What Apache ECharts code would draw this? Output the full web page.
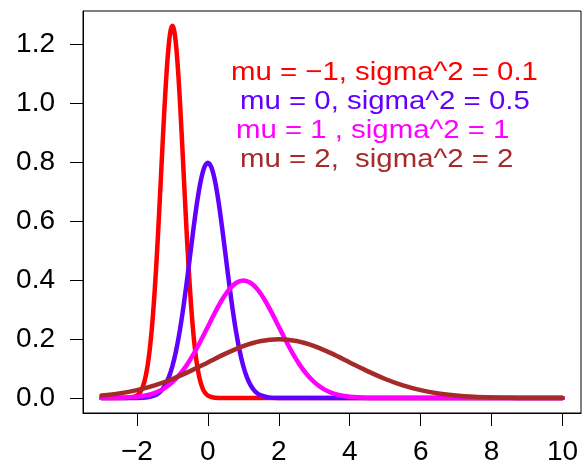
<!DOCTYPE html>
<html>
<head>
<meta charset="utf-8">
<script src="https://cdn.jsdelivr.net/npm/echarts@6/dist/echarts.min.js"></script>
<style>
  html, body { margin: 0; padding: 0; background: #fff; }
  #chart { width: 582px; height: 466px; }
</style>
</head>
<body>
<div id="chart"></div>
<script>
// Normal densities sampled along x
const redX = [-3, -2.5, -2.2, -2.0, -1.95, -1.9, -1.85, -1.8, -1.75, -1.7, -1.65, -1.6, -1.55, -1.5, -1.45, -1.4, -1.35, -1.3, -1.25, -1.2, -1.15, -1.1, -1.05, -1.0,
  -0.95, -0.9, -0.85, -0.8, -0.75, -0.7, -0.65, -0.6, -0.55, -0.5, -0.45, -0.4, -0.35, -0.3, -0.25, -0.2, -0.15, -0.1, -0.05, 0, 0.2, 0.5, 1, 10];
const redY = [0, 0, 0.0009, 0.0085, 0.0138, 0.0220, 0.0340, 0.0514, 0.0758, 0.1089, 0.1526, 0.2085, 0.2780, 0.3614, 0.4584, 0.5669, 0.6838, 0.8044, 0.9230, 1.0329, 1.1273, 1.2001, 1.2459, 1.2616,
  1.2459, 1.2001, 1.1273, 1.0329, 0.9230, 0.8044, 0.6838, 0.5669, 0.4584, 0.3614, 0.2780, 0.2085, 0.1526, 0.1089, 0.0758, 0.0514, 0.0340, 0.0220, 0.0138, 0.0085, 0.0009, 0, 0, 0];

const blueX = [-3, -2.5, -2, -1.7, -1.5, -1.4, -1.3, -1.2, -1.1, -1.0, -0.9, -0.8, -0.7, -0.6, -0.5, -0.4, -0.3, -0.2, -0.1, 0,
  0.1, 0.2, 0.3, 0.4, 0.5, 0.6, 0.7, 0.8, 0.9, 1.0, 1.1, 1.2, 1.3, 1.4, 1.5, 1.7, 2, 2.5, 3, 10];
const blueY = [0, 0, 0.0003, 0.0025, 0.0089, 0.0158, 0.0272, 0.0448, 0.0710, 0.1080, 0.1579, 0.2218, 0.2995, 0.3884, 0.4839, 0.5794, 0.6665, 0.7366, 0.7821, 0.7979,
  0.7821, 0.7366, 0.6665, 0.5794, 0.4839, 0.3884, 0.2995, 0.2218, 0.1579, 0.1080, 0.0710, 0.0448, 0.0272, 0.0158, 0.0089, 0.0025, 0.0003, 0, 0, 0];

const magentaX = [-3, -2.4, -2, -1.8, -1.6, -1.4, -1.2, -1.0, -0.8, -0.6, -0.4, -0.2, 0, 0.2, 0.4, 0.6, 0.8, 1.0,
  1.2, 1.4, 1.6, 1.8, 2.0, 2.2, 2.4, 2.6, 2.8, 3.0, 3.2, 3.4, 3.6, 3.8, 4.0, 4.4, 5, 6, 10];
const magentaY = [0.0001, 0.0012, 0.0044, 0.0079, 0.0136, 0.0224, 0.0355, 0.0540, 0.0790, 0.1109, 0.1497, 0.1942, 0.2420, 0.2897, 0.3332, 0.3683, 0.3910, 0.3989,
  0.3910, 0.3683, 0.3332, 0.2897, 0.2420, 0.1942, 0.1497, 0.1109, 0.0790, 0.0540, 0.0355, 0.0224, 0.0136, 0.0079, 0.0044, 0.0012, 0.0001, 0, 0];

const brownX = [-3, -2.5, -2, -1.5, -1, -0.5, 0, 0.5, 1, 1.5, 2, 2.5, 3, 3.5, 4, 4.5, 5, 5.5, 6, 6.5, 7, 7.5, 8, 8.5, 9, 9.5, 10];
const brownY = [0.0088, 0.0159, 0.0270, 0.0431, 0.0648, 0.0913, 0.1210, 0.1506, 0.1760, 0.1933, 0.1995, 0.1933, 0.1760, 0.1506, 0.1210, 0.0913,
  0.0648, 0.0431, 0.0270, 0.0159, 0.0088, 0.0045, 0.0022, 0.0010, 0.0004, 0.0002, 0.0001];

const xTicks = [-2, 0, 2, 4, 6, 8, 10];
const yTicks = [0, 0.2, 0.4, 0.6, 0.8, 1.0, 1.2];

const labels = [
  'mu = \u22121, sigma^2 = 0.1',
  'mu = 0, sigma^2 = 0.5',
  'mu = 1 , sigma^2 = 1',
  'mu = 2,  sigma^2 = 2'
];
const colors = ['#FF0000', '#6200FF', '#FF00FF', '#A52A2A'];

const FONT = '"Liberation Sans", Arial, Helvetica, sans-serif';

function pairs(xs, ys) {
  return xs.map((x, i) => [x, ys[i]]);
}

const curves = [
  pairs(redX, redY),
  pairs(blueX, blueY),
  pairs(magentaX, magentaY),
  pairs(brownX, brownY)
];

// label anchor points (left edge, vertical middle)
const labelPos = [[231, 73], [240, 101.5], [236, 130.5], [240, 160]];

const chart = echarts.init(document.getElementById('chart'), null, { renderer: 'canvas' });

chart.setOption({
  animation: false,
  backgroundColor: '#fff',
  grid: {
    left: 83, top: 11, right: 1, bottom: 53,
    show: true, borderColor: '#000', borderWidth: 1, backgroundColor: 'transparent'
  },
  xAxis: {
    type: 'value',
    min: -3.52, max: 10.52,
    axisLine: { show: true, onZero: false, lineStyle: { color: '#000', width: 1 } },
    axisTick: { show: true, customValues: xTicks, length: 13, inside: false, lineStyle: { color: '#000', width: 1 } },
    axisLabel: {
      customValues: xTicks, margin: 25, color: '#000', fontSize: 28, fontFamily: FONT,
      formatter: v => (v < 0 ? '\u2212' + Math.abs(v) : String(v))
    },
    splitLine: { show: false }
  },
  yAxis: {
    type: 'value',
    min: -0.0505, max: 1.312,
    axisLine: { show: true, onZero: false, lineStyle: { color: '#000', width: 1 } },
    axisTick: { show: true, customValues: yTicks, length: 13, inside: false, lineStyle: { color: '#000', width: 1 } },
    axisLabel: {
      customValues: yTicks, margin: 28, color: '#000', fontSize: 28, fontFamily: FONT,
      formatter: v => v.toFixed(1)
    },
    splitLine: { show: false }
  },
  series: curves.map((d, i) => ({
    type: 'line',
    data: d,
    showSymbol: false,
    smooth: 0.3,
    lineStyle: { color: colors[i], width: 4.5, cap: 'round', join: 'round' },
    emphasis: { disabled: true }
  })),
  graphic: labels.map((t, i) => ({
    type: 'text',
    x: labelPos[i][0],
    y: labelPos[i][1],
    scaleX: 1.13,
    style: {
      text: t,
      fill: colors[i],
      fontSize: 26,
      fontFamily: FONT,
      align: 'left',
      verticalAlign: 'middle'
    }
  }))
});
</script>
</body>
</html>
